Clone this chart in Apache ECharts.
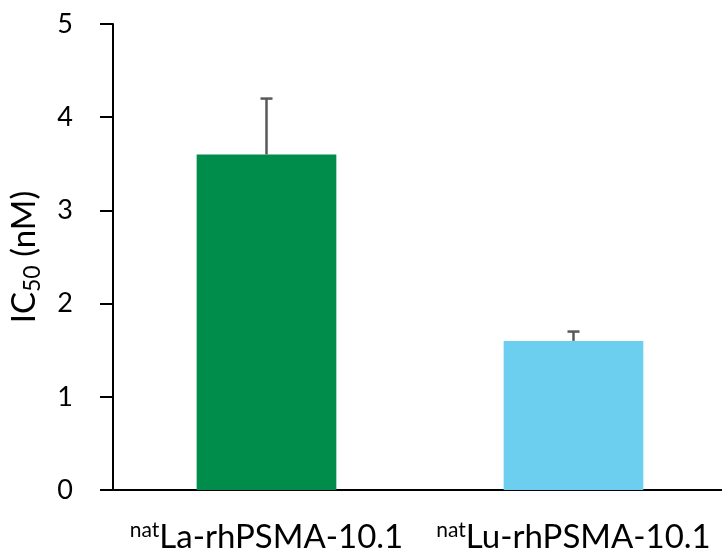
<!DOCTYPE html>
<html>
<head>
<meta charset="utf-8">
<script src="https://cdn.jsdelivr.net/npm/echarts@6/dist/echarts.min.js"></script>
<style>
  html, body { margin: 0; padding: 0; background: #fff; }
  #chart { width: 722px; height: 554px; }
</style>
</head>
<body>
<div id="chart"></div>
<script>
// data
var categories = ["La-rhPSMA-10.1", "Lu-rhPSMA-10.1"];
var prefixes = ["nat", "nat"];
var ic50 = [3.6, 1.6];
var ic50Err = [0.6, 0.1];
var barColors = ["#008C4B", "#6DCFEF"];

var FONT = "Lato";

var chart = echarts.init(document.getElementById("chart"));

var errData = ic50.map(function (v, i) {
  return [i, v, ic50Err[i]];
});

chart.setOption({
  animation: false,
  grid: {
    left: 113,
    width: 614,
    top: 24,
    bottom: 64,
    outerBoundsMode: "none"
  },
  xAxis: {
    type: "category",
    data: categories,
    axisTick: { show: false },
    axisLine: { lineStyle: { color: "#000", width: 2 } },
    axisLabel: {
      margin: 30,
      formatter: function (val, idx) {
        return "{sup|" + prefixes[idx] + "}{main|" + val + "}";
      },
      rich: {
        sup: { fontFamily: FONT, fontSize: 21, color: "#000", verticalAlign: "top", lineHeight: 34 },
        main: { fontFamily: FONT, fontSize: 33, color: "#000", lineHeight: 34 }
      }
    }
  },
  yAxis: {
    type: "value",
    min: 0,
    max: 5,
    interval: 1,
    splitLine: { show: false },
    axisLine: { show: true, lineStyle: { color: "#000", width: 2 } },
    axisTick: { show: true, length: 13, lineStyle: { color: "#000", width: 2 } },
    axisLabel: { fontFamily: FONT, fontSize: 27, color: "#000", margin: 40 },
    name: "IC{sub|50} (nM)",
    nameLocation: "middle",
    nameRotate: 90,
    nameGap: 69,
    nameTextStyle: {
      fontFamily: FONT,
      fontSize: 33,
      color: "#000",
      rich: {
        sub: { fontFamily: FONT, fontSize: 23, color: "#000", verticalAlign: "bottom", padding: [16, 0, 0, 0] }
      }
    }
  },
  series: [
    {
      type: "bar",
      barWidth: "45.5%",
      data: ic50.map(function (v, i) {
        return { value: v, itemStyle: { color: barColors[i] } };
      }),
      z: 2
    },
    {
      type: "custom",
      data: errData,
      z: 3,
      renderItem: function (params, api) {
        var x = api.value(0);
        var y = api.value(1);
        var e = api.value(2);
        var p0 = api.coord([x, y]);
        var p1 = api.coord([x, y + e]);
        var half = 6;
        var style = { stroke: "#595959", lineWidth: 2.5 };
        return {
          type: "group",
          children: [
            { type: "line", shape: { x1: p0[0], y1: p0[1], x2: p1[0], y2: p1[1] }, style: style },
            { type: "line", shape: { x1: p1[0] - half, y1: p1[1], x2: p1[0] + half, y2: p1[1] }, style: style }
          ]
        };
      }
    }
  ]
});
</script>
</body>
</html>
